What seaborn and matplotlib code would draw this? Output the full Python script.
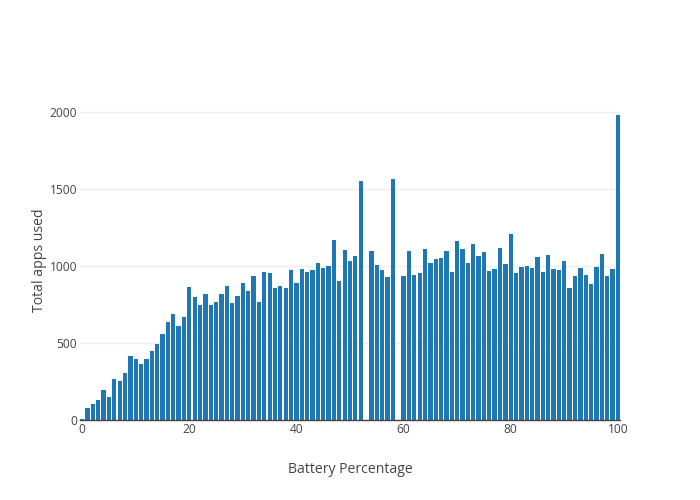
import numpy as np
import pandas as pd
import matplotlib
matplotlib.use("Agg")
import matplotlib.pyplot as plt
import seaborn as sns

battery = list(range(0, 101))
apps_used = [
    8, 80, 104, 130, 195, 147, 264, 253, 305, 413,
    394, 364, 396, 448, 494, 556, 636, 688, 612, 671,
    864, 797, 747, 818, 747, 764, 816, 870, 760, 805,
    890, 838, 933, 768, 961, 950, 855, 866, 857, 974,
    890, 978, 959, 974, 1015, 987, 996, 1167, 903, 1104,
    1032, 1065, 1548, None, 1097, 1004, 974, 926, 1563, None,
    933, 1097, 939, 950, 1108, 1015, 1043, 1052, 1097, 959,
    1160, 1110, 1017, 1141, 1063, 1089, 965, 976, 1117, 1013,
    1206, 952, 994, 996, 983, 1058, 961, 1067, 978, 970,
    1028, 859, 933, 985, 941, 881, 991, 1076, 931, 981,
    1976,
]
y_ticks = [0, 500, 1000, 1500, 2000]
x_ticks = [0, 20, 40, 60, 80, 100]

df = pd.DataFrame({"Battery Percentage": battery, "Total apps used": apps_used}).dropna()

sns.set_theme(style="white")
plt.rcParams["font.family"] = ["Open Sans", "DejaVu Sans"]

fig = plt.figure(figsize=(7, 5), dpi=100)
ax = fig.add_axes([80 / 700, 80 / 500, 540 / 700, 320 / 500])

sns.barplot(data=df, x="Battery Percentage", y="Total apps used", native_scale=True,
            color="#1f77b4", saturation=1, width=0.8, linewidth=0, ax=ax, errorbar=None)

ax.set_xlim(-0.4, 100.4)
ax.set_ylim(0, 2075)
ax.set_yticks(y_ticks)
ax.set_xticks(x_ticks)
ax.set_yticklabels([str(v) for v in y_ticks])
ax.set_xticklabels([str(v) for v in x_ticks])
ax.tick_params(axis="both", length=0, labelsize=8.64, labelcolor="#444444")
ax.tick_params(axis="y", pad=2)
ax.tick_params(axis="x", pad=2)

ax.grid(axis="y", color="#eeeeee", linewidth=1)
ax.set_axisbelow(True)
for s in ["top", "right", "left"]:
    ax.spines[s].set_visible(False)
ax.spines["bottom"].set_color("#444444")
ax.spines["bottom"].set_linewidth(1)
ax.spines["bottom"].set_zorder(5)

ax.set_xlabel("Battery Percentage", fontsize=10.08, color="#444444", labelpad=19)
ax.set_ylabel("Total apps used", fontsize=10.08, color="#444444", labelpad=2)

fig.savefig("out.png", dpi=100)
